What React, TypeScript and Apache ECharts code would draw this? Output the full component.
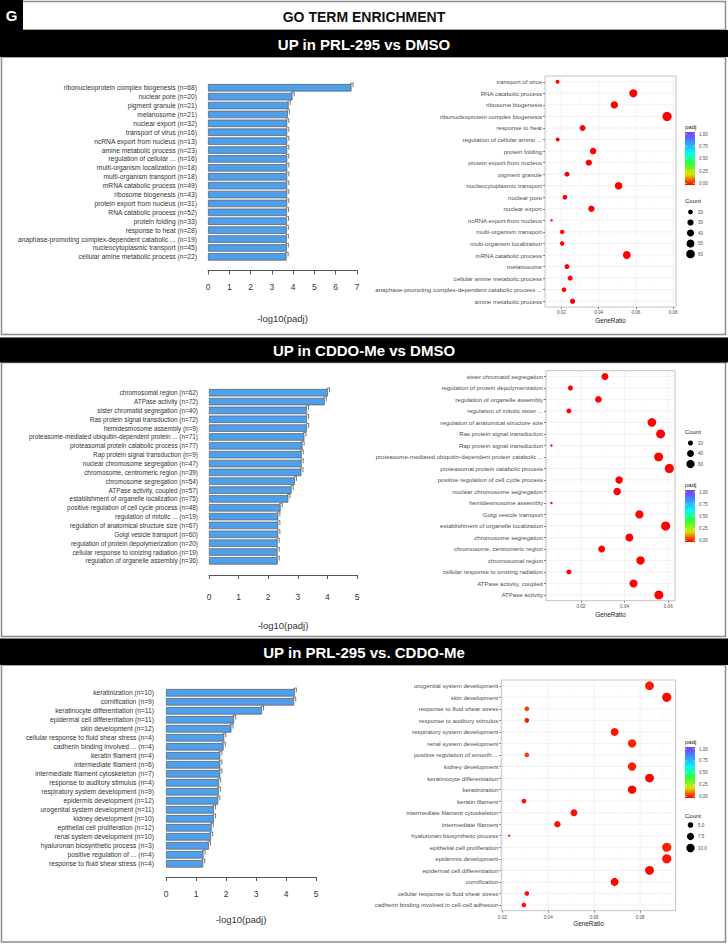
import React, { useEffect, useRef } from 'react';
import * as echarts from 'echarts';

const FONT = '"Liberation Sans", Arial, Helvetica, sans-serif';

const figureTitle = 'GO TERM ENRICHMENT';
const panelLetter = 'G';
const panelTitles = ['UP in PRL-295 vs DMSO', 'UP in CDDO-Me vs DMSO', 'UP in PRL-295 vs. CDDO-Me'];
const barAxisTitle = '-log10(padj)';
const dotAxisTitle = 'GeneRatio';

// ---------------- Panel 1: UP in PRL-295 vs DMSO ----------------
const bar1Terms = ['ribonucleoprotein complex biogenesis', 'nuclear pore', 'pigment granule', 'melanosome', 'nuclear export', 'transport of virus', 'ncRNA export from nucleus', 'amine metabolic process', 'regulation of cellular ...', 'multi-organism localization', 'multi-organism transport', 'mRNA catabolic process', 'ribosome biogenesis', 'protein export from nucleus', 'RNA catabolic process', 'protein folding', 'response to heat', 'anaphase-promoting complex-dependent catabolic ...', 'nucleocytoplasmic transport', 'cellular amine metabolic process'];
const bar1Counts = [68, 20, 21, 21, 32, 16, 13, 23, 16, 18, 18, 49, 43, 31, 52, 33, 28, 19, 45, 22];
const bar1Values = [6.74, 3.97, 3.79, 3.75, 3.72, 3.72, 3.72, 3.72, 3.72, 3.72, 3.72, 3.72, 3.72, 3.72, 3.71, 3.71, 3.7, 3.7, 3.7, 3.69];
const bar1Max = 7;

const dot1Terms = ['transport of virus', 'RNA catabolic process', 'ribosome biogenesis', 'ribonucleoprotein complex biogenesis', 'response to heat', 'regulation of cellular amino ...', 'protein folding', 'protein export from nucleus', 'pigment granule', 'nucleocytoplasmic transport', 'nuclear pore', 'nuclear export', 'ncRNA export from nucleus', 'multi-organism transport', 'multi-organism localization', 'mRNA catabolic process', 'melanosome', 'cellular amine metabolic process', 'anaphase-promoting complex-dependent catabolic process ...', 'amine metabolic process'];
const dot1Ratio = [0.0179, 0.0586, 0.0484, 0.0767, 0.0314, 0.018, 0.037, 0.0347, 0.023, 0.0507, 0.0219, 0.0361, 0.0147, 0.0204, 0.0204, 0.0551, 0.023, 0.0247, 0.0214, 0.026];
const dot1Count = [16, 52, 43, 68, 28, 16, 33, 31, 21, 45, 20, 32, 13, 18, 18, 49, 21, 22, 19, 23];
const dot1Padj = [0.00019, 0.00019, 0.00019, 0.0000002, 0.0002, 0.00019, 0.00019, 0.00019, 0.00016, 0.0002, 0.0001, 0.00019, 0.00019, 0.00019, 0.00019, 0.00019, 0.00018, 0.0002, 0.0002, 0.00019];
const dot1Ticks = [0.02, 0.04, 0.06, 0.08];
const dot1Minor = [0.03, 0.05, 0.07];
const count1Breaks = [20, 30, 40, 50, 60];

// ---------------- Panel 2: UP in CDDO-Me vs DMSO ----------------
const bar2Terms = ['chromosomal region', 'ATPase activity', 'sister chromatid segregation', 'Ras protein signal transduction', 'hemidesmosome assembly', 'proteasome-mediated ubiquitin-dependent protein ...', 'proteasomal protein catabolic process', 'Rap protein signal transduction', 'nuclear chromosome segregation', 'chromosome, centromeric region', 'chromosome segregation', 'ATPase activity, coupled', 'establishment of organelle localization', 'positive regulation of cell cycle process', 'regulation of mitotic ...', 'regulation of anatomical structure size', 'Golgi vesicle transport', 'regulation of protein depolymerization', 'cellular response to ionizing radiation', 'regulation of organelle assembly'];
const bar2Counts = [62, 72, 40, 72, 9, 71, 77, 9, 47, 39, 54, 57, 75, 48, 19, 67, 60, 20, 19, 36];
const bar2Values = [4.02, 3.91, 3.31, 3.31, 3.31, 3.22, 3.16, 3.13, 3.13, 3.12, 2.9, 2.79, 2.68, 2.42, 2.34, 2.34, 2.34, 2.32, 2.32, 2.32];
const bar2Max = 5;

const dot2Terms = ['sister chromatid segregation', 'regulation of protein depolymerization', 'regulation of organelle assembly', 'regulation of mitotic sister ...', 'regulation of anatomical structure size', 'Ras protein signal transduction', 'Rap protein signal transduction', 'proteasome-mediated ubiquitin-dependent protein catabolic ...', 'proteasomal protein catabolic process', 'positive regulation of cell cycle process', 'nuclear chromosome segregation', 'hemidesmosome assembly', 'Golgi vesicle transport', 'establishment of organelle localization', 'chromosome segregation', 'chromosome, centromeric region', 'chromosomal region', 'cellular response to ionizing radiation', 'ATPase activity, coupled', 'ATPase activity'];
const dot2Ratio = [0.031, 0.0152, 0.028, 0.0145, 0.0525, 0.0565, 0.0065, 0.0556, 0.0605, 0.0375, 0.0366, 0.0065, 0.0468, 0.0588, 0.0422, 0.0295, 0.0473, 0.0145, 0.0441, 0.0557];
const dot2Count = [40, 20, 36, 19, 67, 72, 9, 71, 77, 48, 47, 9, 60, 75, 54, 39, 62, 19, 57, 72];
const dot2Padj = [0.0005, 0.0048, 0.0048, 0.0046, 0.0046, 0.0005, 0.0007, 0.0006, 0.0007, 0.0038, 0.0007, 0.0005, 0.0046, 0.0021, 0.0013, 0.0008, 0.0001, 0.0048, 0.0016, 0.0001];
const dot2Ticks = [0.02, 0.04, 0.06];
const dot2Minor = [0.01, 0.03, 0.05];
const count2Breaks = [20, 40, 60];

// ---------------- Panel 3: UP in PRL-295 vs. CDDO-Me ----------------
const bar3Terms = ['keratinization', 'cornification', 'keratinocyte differentiation', 'epidermal cell differentiation', 'skin development', 'cellular response to fluid shear stress', 'cadherin binding involved ...', 'keratin filament', 'intermediate filament', 'intermediate filament cytoskeleton', 'response to auditory stimulus', 'respiratory system development', 'epidermis development', 'urogenital system development', 'kidney development', 'epithelial cell proliferation', 'renal system development', 'hyaluronan biosynthetic process', 'positive regulation of ...', 'response to fluid shear stress'];
const bar3Counts = [10, 9, 11, 11, 12, 4, 4, 4, 6, 7, 4, 9, 12, 11, 10, 12, 10, 3, 4, 4];
const bar3Values = [4.29, 4.27, 3.2, 2.27, 2.18, 1.94, 1.92, 1.81, 1.81, 1.81, 1.77, 1.76, 1.74, 1.6, 1.6, 1.52, 1.5, 1.43, 1.25, 1.24];
const bar3Max = 5;

const dot3Terms = ['urogenital system development', 'skin development', 'response to fluid shear stress', 'response to auditory stimulus', 'respiratory system development', 'renal system development', 'positive regulation of smooth ...', 'kidney development', 'keratinocyte differentiation', 'keratinization', 'keratin filament', 'intermediate filament cytoskeleton', 'intermediate filament', 'hyaluronan biosynthetic process', 'epithelial cell proliferation', 'epidermis development', 'epidermal cell differentiation', 'cornification', 'cellular response to fluid shear stress', 'cadherin binding involved in cell-cell adhesion'];
const dot3Ratio = [0.0841, 0.0916, 0.0307, 0.0307, 0.0689, 0.0765, 0.0307, 0.0765, 0.0841, 0.0765, 0.0294, 0.0512, 0.044, 0.023, 0.0916, 0.0916, 0.0841, 0.0689, 0.0307, 0.0294];
const dot3Count = [11, 12, 4, 4, 9, 10, 4, 10, 11, 10, 4, 7, 6, 3, 12, 12, 11, 9, 4, 4];
const dot3Padj = [0.025, 0.0066, 0.058, 0.017, 0.017, 0.032, 0.056, 0.025, 0.00063, 0.000051, 0.0155, 0.0155, 0.0155, 0.037, 0.03, 0.018, 0.0054, 0.000054, 0.0115, 0.012];
const dot3Ticks = [0.02, 0.04, 0.06, 0.08];
const dot3Minor = [0.03, 0.05, 0.07, 0.09];
const count3Breaks = [5, 7.5, 10];

const padjBreaks = [0, 0.25, 0.5, 0.75, 1];
const padjColors = ['#FF0000', '#D9E600', '#33FF33', '#00FFEE', '#3399FF', '#8833FF'];

// ---------------- layout (positions only) ----------------
const barLayouts = [
  { left: 208, top: 83.3, width: 149, height: 178, offset: 9.2, labelMargin: 12.2, nameGap: 43, yMargin: 11, labelSize: 6.7 },
  { left: 209, top: 388.3, width: 148, height: 177, offset: 9.7, labelMargin: 17.5, nameGap: 45.5, yMargin: 11, labelSize: 6.4 },
  { left: 166, top: 688.3, width: 150, height: 180, offset: 8.7, labelMargin: 12.7, nameGap: 37.5, yMargin: 12, labelSize: 6.7 },
];
const dotLayouts = [
  { left: 545, top: 76, width: 131, height: 231, min: 0.0112, max: 0.0815, tickMargin: 3.4, nameGap: 10 },
  { left: 546, top: 370.7, width: 129, height: 230, min: 0.004, max: 0.0631, tickMargin: 3, nameGap: 10.7 },
  { left: 501.3, top: 680, width: 174.4, height: 230.7, min: 0.01957, max: 0.0955, tickMargin: 4, nameGap: 9.2 },
];
const legendLayouts = [
  { padjTitleY: 127, barTop: 132, barH: 53, countTitleY: 201, dotY0: 212, step: 10.5 },
  { padjTitleY: 485, barTop: 490, barH: 52, countTitleY: 432, dotY0: 443, step: 10.5 },
  { padjTitleY: 742, barTop: 747, barH: 51, countTitleY: 816, dotY0: 825, step: 11.5 },
];
const bands = [
  { y: 30, h: 27, frameTop: 57, frameBottom: 334.5 },
  { y: 337.5, h: 25, frameTop: 362.5, frameBottom: 636.5 },
  { y: 638.5, h: 26.5, frameTop: 665, frameBottom: 942 },
];

const barPanels = [
  { terms: bar1Terms, counts: bar1Counts, values: bar1Values, max: bar1Max },
  { terms: bar2Terms, counts: bar2Counts, values: bar2Values, max: bar2Max },
  { terms: bar3Terms, counts: bar3Counts, values: bar3Values, max: bar3Max },
];
const dotPanels = [
  { terms: dot1Terms, ratio: dot1Ratio, count: dot1Count, padj: dot1Padj, ticks: dot1Ticks, minor: dot1Minor, breaks: count1Breaks },
  { terms: dot2Terms, ratio: dot2Ratio, count: dot2Count, padj: dot2Padj, ticks: dot2Ticks, minor: dot2Minor, breaks: count2Breaks },
  { terms: dot3Terms, ratio: dot3Ratio, count: dot3Count, padj: dot3Padj, ticks: dot3Ticks, minor: dot3Minor, breaks: count3Breaks },
];

function sizeScale(counts: number[]) {
  const mn = Math.min(...counts);
  const mx = Math.max(...counts);
  return (c: number) => 2.4 + 6.8 * Math.sqrt(Math.max(0, c - mn) / (mx - mn));
}

const gradient = () => ({
  type: 'linear', x: 0, y: 1, x2: 0, y2: 0,
  colorStops: padjColors.map((c, i) => ({ offset: i / (padjColors.length - 1), color: c })),
});

function fmtBreak(v: number, digits: number) {
  return v.toFixed(digits);
}

function buildOption() {
  const grids: any[] = [];
  const xAxes: any[] = [];
  const yAxes: any[] = [];
  const series: any[] = [];
  const scatterIdx: number[] = [];
  const graphic: any[] = [];

  // Header
  graphic.push({ type: 'rect', shape: { x: 1.5, y: 1.5, width: 724, height: 28.5 }, style: { fill: '#fff', stroke: '#8c8c8c', lineWidth: 1.5 }, z: 0 });
  graphic.push({ type: 'rect', shape: { x: 0, y: 0, width: 23, height: 30 }, style: { fill: '#000' }, z: 1 });
  graphic.push({ type: 'text', x: 11.5, y: 15.5, style: { text: panelLetter, fill: '#fff', font: `bold 15px ${FONT}`, align: 'center', verticalAlign: 'middle' }, z: 2 });
  graphic.push({ type: 'text', x: 364, y: 16.5, style: { text: figureTitle, fill: '#111', font: `bold 14px ${FONT}`, align: 'center', verticalAlign: 'middle' }, z: 2 });

  bands.forEach((b, k) => {
    graphic.push({ type: 'rect', shape: { x: 1.5, y: b.frameTop, width: 724, height: b.frameBottom - b.frameTop }, style: { fill: 'none', stroke: '#8c8c8c', lineWidth: 1.5 }, z: 0 });
    graphic.push({ type: 'rect', shape: { x: 0, y: b.y, width: 728, height: b.h }, style: { fill: '#000' }, z: 1 });
    graphic.push({ type: 'text', x: 364, y: b.y + b.h / 2 + 0.5, style: { text: panelTitles[k], fill: '#fff', font: `bold 15px ${FONT}`, align: 'center', verticalAlign: 'middle' }, z: 2 });
  });

  for (let k = 0; k < 3; k++) {
    const bp = barPanels[k];
    const bl = barLayouts[k];
    const dp = dotPanels[k];
    const dl = dotLayouts[k];
    const gBar = grids.length;
    grids.push({ left: bl.left, top: bl.top, width: bl.width, height: bl.height, show: false });
    xAxes.push({
      gridIndex: gBar, type: 'value', min: 0, max: bp.max, interval: 1, offset: bl.offset,
      axisLine: { show: true, lineStyle: { color: '#555', width: 1 } },
      axisTick: { show: true, length: 4, inside: false, lineStyle: { color: '#555', width: 1 } },
      axisLabel: { fontSize: 8.5, color: '#333', margin: bl.labelMargin, fontFamily: FONT },
      splitLine: { show: false },
      name: barAxisTitle, nameLocation: 'middle', nameGap: bl.nameGap,
      nameTextStyle: { fontSize: 9.5, color: '#333', fontFamily: FONT },
    });
    yAxes.push({
      gridIndex: gBar, type: 'category', inverse: true,
      data: bp.terms.map((t, i) => `${t} (n=${bp.counts[i]})`),
      axisLine: { show: false }, axisTick: { show: false },
      axisLabel: { fontSize: bl.labelSize, color: '#333', margin: bl.yMargin, interval: 0, fontFamily: FONT },
      splitLine: { show: false },
    });
    series.push({
      type: 'bar', xAxisIndex: gBar, yAxisIndex: gBar, data: bp.values, barWidth: '84%',
      itemStyle: { color: '#4f9fea', borderColor: '#5a5a5a', borderWidth: 0.7 }, z: 2, silent: true,
    });
    series.push({
      type: 'custom', xAxisIndex: gBar, yAxisIndex: gBar, silent: true, z: 3,
      data: bp.values.map((v, i) => [v, i]), encode: { x: 0, y: 1 },
      renderItem: (params: any, api: any) => {
        const p = api.coord([api.value(0), api.value(1)]);
        const bh = api.size([0, 1])[1] * 0.84;
        const yTop = p[1] - bh / 2;
        return {
          type: 'polyline',
          shape: { points: [[p[0] - 1.5, yTop - 0.3], [p[0] + 1.6, yTop - 1.2], [p[0] + 1.6, yTop + bh * 0.45]] },
          style: { stroke: '#555', lineWidth: 0.8, fill: 'none' },
        };
      },
    });

    // Dot plot
    const gDot = grids.length;
    grids.push({ left: dl.left, top: dl.top, width: dl.width, height: dl.height, show: true, borderColor: '#b3b3b3', borderWidth: 0.8, backgroundColor: 'transparent' });
    xAxes.push({
      gridIndex: gDot, type: 'value', min: dl.min, max: dl.max,
      axisLine: { show: false },
      axisTick: { show: true, customValues: dp.ticks, length: 2, lineStyle: { color: '#333', width: 0.6 } },
      axisLabel: { customValues: dp.ticks, formatter: (v: number) => v.toFixed(2), fontSize: 4.6, color: '#4d4d4d', margin: dl.tickMargin, fontFamily: FONT },
      splitLine: { show: false },
      name: dotAxisTitle, nameLocation: 'middle', nameGap: dl.nameGap,
      nameTextStyle: { fontSize: 6.4, color: '#222', fontFamily: FONT },
    });
    yAxes.push({
      gridIndex: gDot, type: 'category', inverse: true, data: dp.terms,
      axisLine: { show: false },
      axisTick: { show: true, length: 2, alignWithLabel: true, interval: 0, lineStyle: { color: '#333', width: 0.6 } },
      axisLabel: { fontSize: 6.1, color: '#4d4d4d', margin: 3, interval: 0, fontFamily: FONT },
      splitLine: { show: false },
    });
    // horizontal grid lines at categories
    series.push({
      type: 'custom', xAxisIndex: gDot, yAxisIndex: gDot, silent: true, z: 1,
      data: dp.terms.map((_, i) => [dl.min, i]), encode: { x: 0, y: 1 },
      renderItem: (params: any, api: any) => {
        const cs = params.coordSys;
        const y = api.coord([api.value(0), api.value(1)])[1];
        return { type: 'line', shape: { x1: cs.x, y1: y, x2: cs.x + cs.width, y2: y }, style: { stroke: '#ebebeb', lineWidth: 0.7 } };
      },
    });
    // vertical grid lines (major + minor)
    series.push({
      type: 'custom', xAxisIndex: gDot, yAxisIndex: gDot, silent: true, z: 1,
      data: [...dp.ticks.map((v) => [v, 0, 1]), ...dp.minor.map((v) => [v, 0, 0])], encode: { x: 0, y: 1 },
      renderItem: (params: any, api: any) => {
        const cs = params.coordSys;
        const x = api.coord([api.value(0), api.value(1)])[0];
        const major = api.value(2) === 1;
        return { type: 'line', shape: { x1: x, y1: cs.y, x2: x, y2: cs.y + cs.height }, style: { stroke: major ? '#ebebeb' : '#f4f4f4', lineWidth: major ? 0.7 : 0.45 } };
      },
    });
    const size = sizeScale(dp.count);
    scatterIdx.push(series.length);
    series.push({
      type: 'scatter', xAxisIndex: gDot, yAxisIndex: gDot, z: 4, silent: true,
      data: dp.terms.map((_, i) => [dp.ratio[i], i, dp.count[i], dp.padj[i]]),
      encode: { x: 0, y: 1 },
      symbolSize: (v: number[]) => size(v[2]),
      itemStyle: { opacity: 1 },
    });

    // Legends
    const lg = legendLayouts[k];
    const lx = 685;
    graphic.push({ type: 'text', x: lx, y: lg.padjTitleY, style: { text: 'padj', fill: '#222', font: `6px ${FONT}`, align: 'left', verticalAlign: 'middle' }, z: 5 });
    graphic.push({ type: 'rect', shape: { x: lx, y: lg.barTop, width: 10, height: lg.barH }, style: { fill: gradient() }, z: 5 });
    padjBreaks.forEach((v) => {
      const y = lg.barTop + lg.barH - 1.5 - v * (lg.barH - 3.5);
      graphic.push({ type: 'line', shape: { x1: lx, y1: y, x2: lx + 2, y2: y }, style: { stroke: '#fff', lineWidth: 0.5 }, z: 6 });
      graphic.push({ type: 'line', shape: { x1: lx + 8, y1: y, x2: lx + 10, y2: y }, style: { stroke: '#fff', lineWidth: 0.5 }, z: 6 });
      graphic.push({ type: 'text', x: lx + 14, y, style: { text: fmtBreak(v, 2), fill: '#4d4d4d', font: `4.5px ${FONT}`, align: 'left', verticalAlign: 'middle' }, z: 5 });
    });
    graphic.push({ type: 'text', x: lx, y: lg.countTitleY, style: { text: 'Count', fill: '#222', font: `6px ${FONT}`, align: 'left', verticalAlign: 'middle' }, z: 5 });
    dp.breaks.forEach((c, i) => {
      const y = lg.dotY0 + i * lg.step;
      graphic.push({ type: 'circle', shape: { cx: lx + 5.5, cy: y, r: size(c) / 2 }, style: { fill: '#000' }, z: 5 });
      graphic.push({ type: 'text', x: lx + 13, y, style: { text: k === 2 ? fmtBreak(c, 1) : String(c), fill: '#4d4d4d', font: `4.5px ${FONT}`, align: 'left', verticalAlign: 'middle' }, z: 5 });
    });
  }

  return {
    animation: false,
    backgroundColor: '#fff',
    textStyle: { fontFamily: FONT },
    grid: grids,
    xAxis: xAxes,
    yAxis: yAxes,
    visualMap: [{
      type: 'continuous', show: false, seriesIndex: scatterIdx, dimension: 3,
      min: 0, max: 1, inRange: { color: padjColors },
    }],
    series,
    graphic,
  };
}

export default function App() {
  const ref = useRef<HTMLDivElement>(null);
  useEffect(() => {
    document.body.style.margin = '0';
    const chart = echarts.init(ref.current!, null, { renderer: 'svg', width: 728, height: 945 });
    chart.setOption(buildOption() as any);
    return () => chart.dispose();
  }, []);
  return <div ref={ref} style={{ width: 728, height: 945, position: 'absolute', left: 0, top: 0, background: '#fff' }} />;
}
